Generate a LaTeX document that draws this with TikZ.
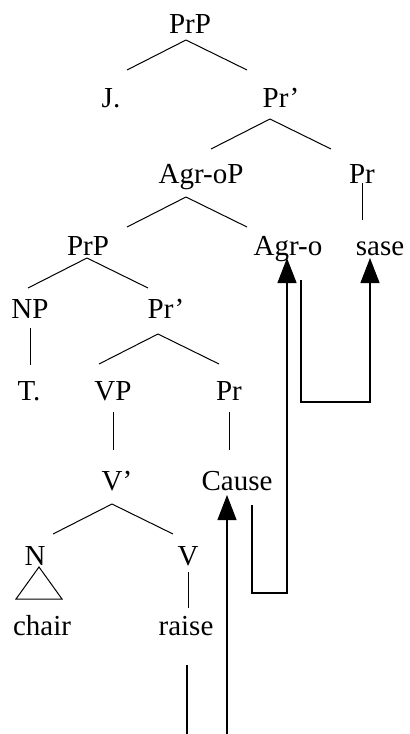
\documentclass[tikz,border=0pt]{standalone}
\usepackage{fontspec}
\setmainfont{Liberation Serif}
\usetikzlibrary{arrows.meta}

\tikzset{
  lab/.style={anchor=base, inner sep=0pt, font=\fontsize{14.5}{17}\selectfont},
  move/.style={line width=0.6pt, -{Triangle[length=12.5pt,width=9.5pt]}}
}

% hat under a node: parent, dx, dy
\newcommand{\branch}[3]{%
  \draw ([shift={(#2,#3)}]#1.base) -- ++(-59,30)
        ([shift={(#2,#3)}]#1.base) -- ++(61,30);}

\begin{document}
\begin{tikzpicture}[x=0.5pt,y=-0.5pt,line width=0.5pt]
\useasboundingbox (0,0) rectangle (409,734);
\clip (0,0) rectangle (409,734);

% Labels
\node[lab] (prp1) at (190,33) {PrP};
\node[lab] (j) at (111,107) {J.};
\node[lab] (prbar1) at (281,107) {Pr'};
\node[lab] (agrop) at (201,183) {Agr-oP};
\node[lab] (pr1) at (362,183) {Pr};
\node[lab] (prp2) at (88,255) {PrP};
\node[lab] (agro) at (288,255) {Agr-o};
\node[lab] (sase) at (380,255) {sase};
\node[lab] (np) at (30,318) {NP};
\node[lab] (prbar2) at (166,318) {Pr'};
\node[lab] (t) at (29,400) {T.};
\node[lab] (vp) at (113,400) {VP};
\node[lab] (pr2) at (229,400) {Pr};
\node[lab] (vbar) at (117,490) {V'};
\node[lab] (cause) at (237,490) {Cause};
\node[lab] (n) at (35,565) {N};
\node[lab] (v) at (188,565) {V};
\node[lab] (chair) at (42,635) {chair};
\node[lab] (raise) at (186,635) {raise};

% Branches
\branch{prp1}{-4}{7}
\branch{prbar1}{-11}{12}
\branch{agrop}{-15}{14}
\branch{prp2}{-1}{3}
\branch{prbar2}{-8}{16}
\branch{vbar}{-5}{14}

% Unary lines
\draw[shorten >=17.5pt] (pr1.base) -- (pr1.base |- sase.base);
\draw[shorten <=5pt, shorten >=17.5pt] (np.base) -- (np.base |- t.base);
\draw[shorten <=6pt, shorten >=20pt] (vp.base) -- (vp.base |- vbar.base);
\draw[shorten <=6pt, shorten >=20pt] (pr2.base) -- (pr2.base |- cause.base);
\draw[shorten <=3.5pt, shorten >=13.5pt] (v.base) -- (v.base |- raise.base);

% Triangle
\draw (n.base) ++(4,2) -- ++(-23,32) -- ++(46,0) -- cycle;

% Movement
\draw[move] ([shift={(1,30)}]raise.base) -- ++(0,130) -| ([shift={(-10,5)}]cause.base);
\draw[move] ([shift={(15,15)}]cause.base) -- ++(0,88) -| ([shift={(-1,3)}]agro.base);
\draw[move] ([shift={(13,25)}]agro.base) -- ++(0,122) -| ([shift={(-10,3)}]sase.base);

\end{tikzpicture}
\end{document}
